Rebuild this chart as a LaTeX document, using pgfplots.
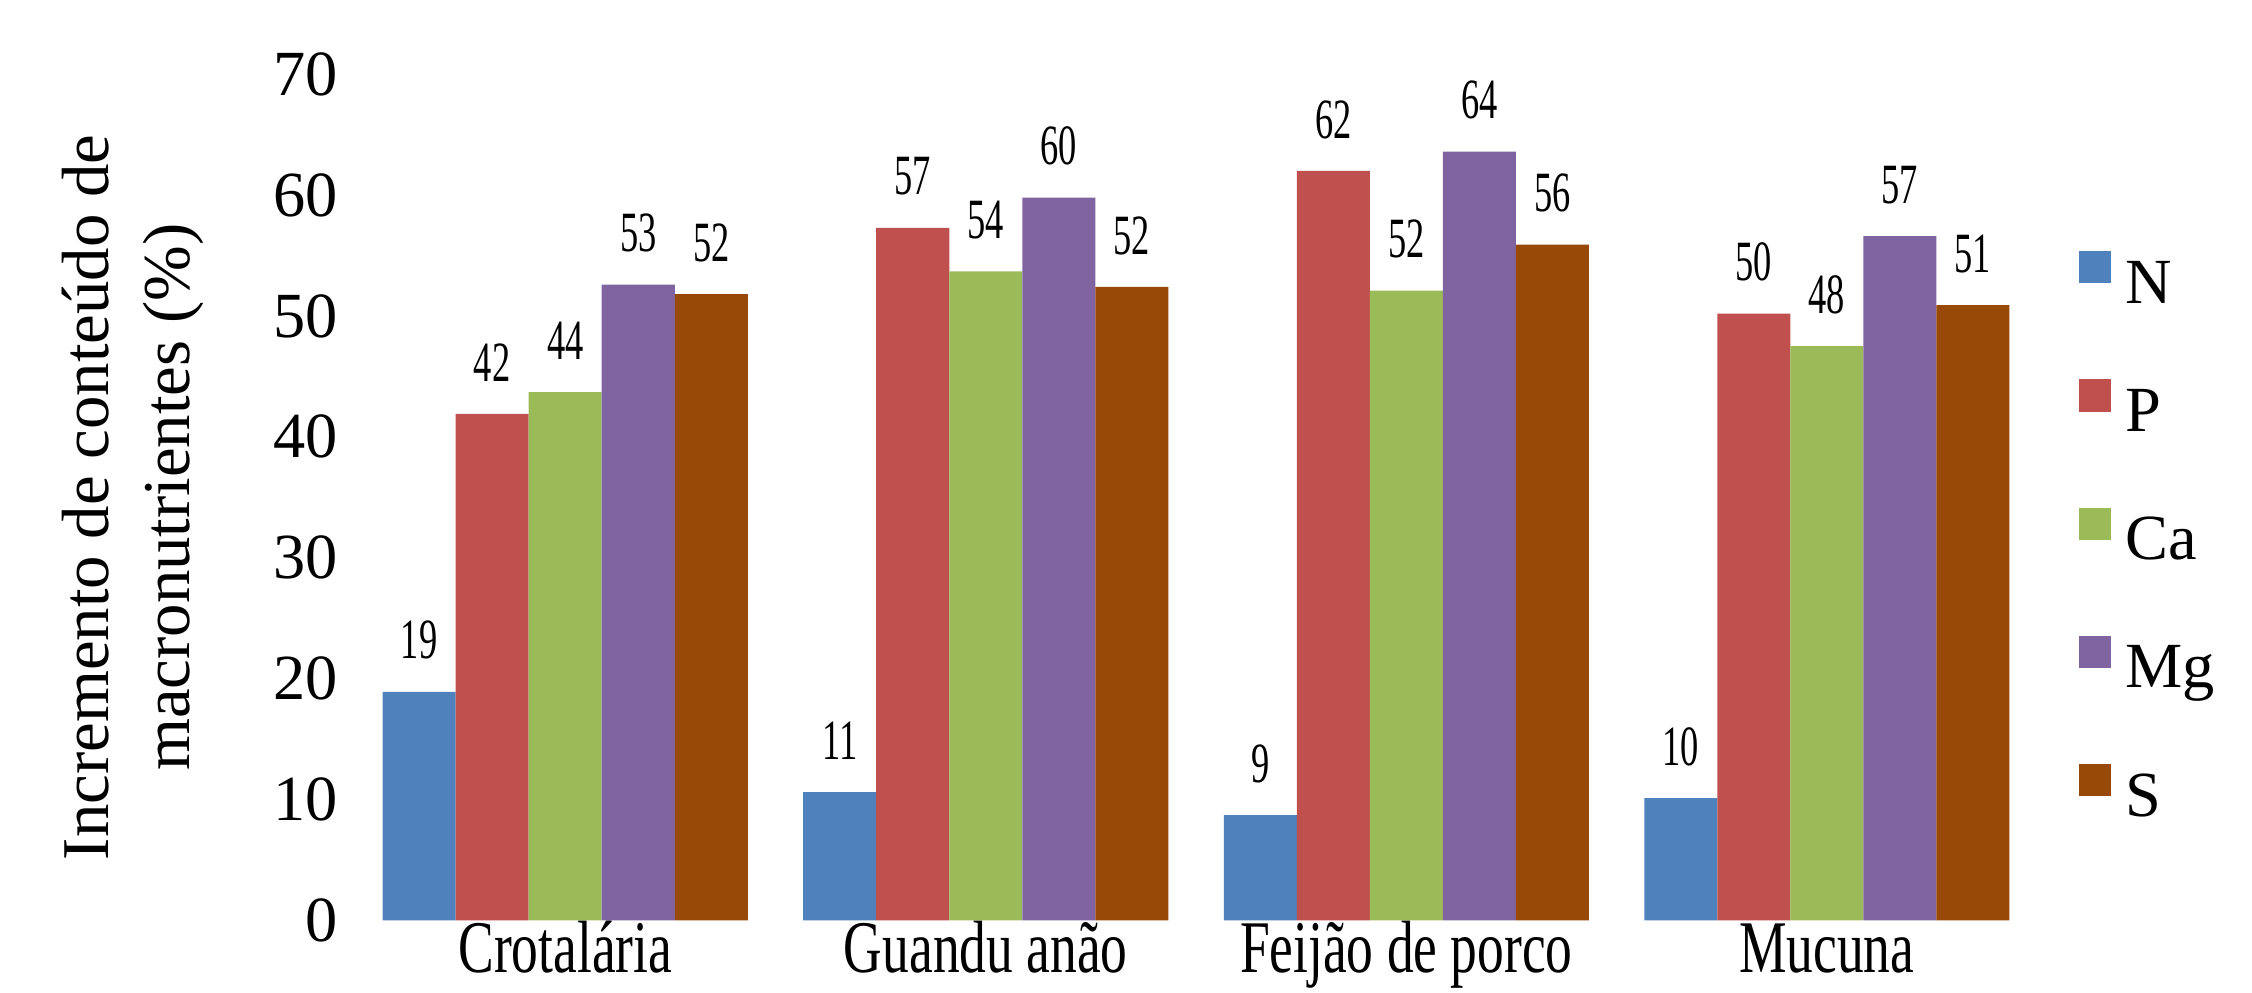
\documentclass[border=0pt]{standalone}
\usepackage{pgfplots}
\pgfplotsset{compat=1.18}
\usepackage{fontspec}
\setmainfont{Liberation Serif}
\newfontfamily\condx[FakeStretch=0.72]{Liberation Serif}
\newfontfamily\condd[FakeStretch=0.64]{Liberation Serif}
\definecolor{cN}{HTML}{4F81BD}
\definecolor{cP}{HTML}{C0504D}
\definecolor{cCa}{HTML}{9BBB59}
\definecolor{cMg}{HTML}{8064A2}
\definecolor{cS}{HTML}{984807}
\begin{document}
\begin{tikzpicture}
\path[use as bounding box] (-71.7pt,-14.5pt) rectangle (383.2pt,185.9pt);
\begin{axis}[
  scale only axis,
  width=339.8pt, height=170.9pt,
  ybar=0pt, bar width=14.75pt,
  xmin=-0.5, xmax=3.5, ymin=0, ymax=70,
  xtick={0,1,2,3},
  xticklabels={Crotalária, Guandu anão, Feijão de porco, Mucuna},
  ytick={0,10,...,70},
  axis line style={draw=none},
  major tick length=0pt,
  tick style={draw=none},
  /pgf/number format/assume math mode=true,
  yticklabel style={font=\fontsize{13}{15.6}\selectfont},
  xticklabel style={font=\condx\fontsize{15}{18}\selectfont, anchor=base, yshift=-10.6pt},
  ylabel={Incremento de conteúdo de\\macronutrientes (\%)},
  ylabel style={align=center, font=\fontsize{13.5}{16.2}\selectfont, at={(axis description cs:-0.132,0.5)}, anchor=center},
  nodes near coords={\pgfmathprintnumber[fixed,precision=0]{\pgfplotspointmeta}},
  every node near coord/.append style={font=\condd\fontsize{11.5}{13}\selectfont, text=black, yshift=3pt},
  legend image code/.code={\path[#1, draw=none] (0pt,1pt) rectangle (6.5pt,7.5pt);},
  legend style={at={(1.024,0.792)}, anchor=north west, draw=none, inner sep=0pt,
    font=\fontsize{13}{15.6}\selectfont,
    nodes={text height=9pt, text depth=3pt, inner sep=0pt},
    row sep=12.4pt, column sep=3pt},
  legend cell align=left,
]
\addplot[fill=cN, draw=none] coordinates {(0,18.9) (1,10.6) (2,8.7) (3,10.1)};
\addplot[fill=cP, draw=none] coordinates {(0,41.9) (1,57.3) (2,62.0) (3,50.2)};
\addplot[fill=cCa, draw=none] coordinates {(0,43.7) (1,53.7) (2,52.1) (3,47.5)};
\addplot[fill=cMg, draw=none] coordinates {(0,52.6) (1,59.8) (2,63.6) (3,56.6)};
\addplot[fill=cS, draw=none] coordinates {(0,51.8) (1,52.4) (2,55.9) (3,50.9)};
\legend{N,P,Ca,Mg,S}
\end{axis}
\end{tikzpicture}
\end{document}
